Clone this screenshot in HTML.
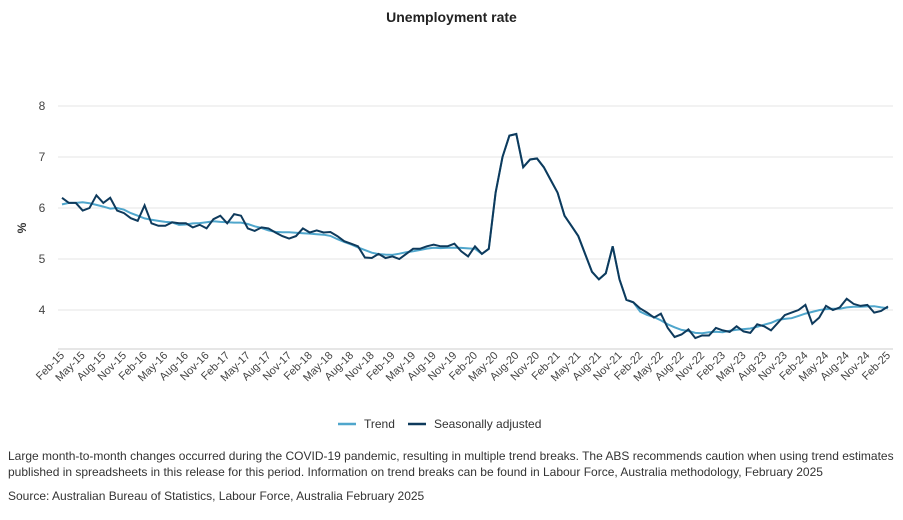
<!DOCTYPE html>
<html><head><meta charset="utf-8"><style>
body{margin:0;background:#fff;font-family:"Liberation Sans",sans-serif;color:#333;}
#w{position:relative;width:903px;height:520px;overflow:hidden}
.t{position:absolute;white-space:nowrap}
</style></head><body><div id="w">
<div class="t" style="left:0;width:903px;text-align:center;top:9px;font-size:14px;font-weight:bold;color:#222">Unemployment rate</div>
<svg id="s" width="903" height="440" style="position:absolute;left:0;top:0"></svg>
<div class="t" style="left:8px;top:448px;font-size:12px;line-height:16px;">Large month-to-month changes occurred during the COVID-19 pandemic, resulting in multiple trend breaks. The ABS recommends caution when using trend estimates<br>published in spreadsheets in this release for this period. Information on trend breaks can be found in Labour Force, Australia methodology, February 2025</div>
<div class="t" style="left:8px;top:489px;font-size:12px;">Source: Australian Bureau of Statistics, Labour Force, Australia February 2025</div>
</div>
<script>
var sa=[6.2,6.1,6.1,5.95,6.0,6.25,6.1,6.2,5.95,5.9,5.8,
5.75,6.05,5.7,5.65,5.65,5.72,5.7,5.7,5.62,5.67,5.6,5.78,
5.85,5.7,5.88,5.85,5.6,5.55,5.62,5.6,5.52,5.45,5.4,5.45,
5.6,5.52,5.56,5.52,5.53,5.45,5.35,5.3,5.25,5.03,5.02,5.1,
5.02,5.05,5.0,5.1,5.2,5.2,5.25,5.28,5.25,5.25,5.3,5.15,
5.05,5.25,5.1,5.2,6.3,7.0,7.42,7.45,6.8,6.95,6.97,6.8,
6.55,6.3,5.85,5.65,5.45,5.1,4.75,4.6,4.72,5.25,4.6,
4.2,4.15,4.03,3.95,3.85,3.93,3.65,3.47,3.52,3.62,3.45,3.5,3.5,3.65,3.6,3.57,3.68,3.58,3.55,3.72,3.68,3.6,3.75,3.9,3.95,4.0,
4.1,3.73,3.85,4.08,4.0,4.05,4.22,4.12,4.08,4.1,3.95,3.98,4.07];
sa=sa.slice(0,121);while(sa.length<121)sa.push(4.05);
var X=function(i){return 62+i*826/120},Y=function(v){return 310-(v-4)*51};
var s='';
[4,5,6,7,8].forEach(function(v){s+='<line x1="58" x2="893" y1="'+Y(v)+'" y2="'+Y(v)+'" stroke="#e6e6e6"/>';
s+='<text x="42" y="'+(Y(v)+4)+'" font-size="12" fill="#444" text-anchor="middle">'+v+'</text>';});
s+='<line x1="58" x2="893" y1="349" y2="349" stroke="#ccc"/>';
s+='<text x="26" y="228" font-size="12" font-weight="bold" fill="#333" transform="rotate(-90 26 228)" text-anchor="middle">%</text>';
var m=['Feb','May','Aug','Nov'];
for(var k=0;k<41;k++){var i=k*3,x=X(i)+3,yr=15+Math.floor((k)/4);
s+='<text x="'+x+'" y="356" font-size="11" fill="#444" text-anchor="end" transform="rotate(-45 '+x+' 356)">'+m[k%4]+'-'+yr+'</text>';}
var A=61,B=83;
var tr=[];for(var i=0;i<121;i++){if(i>=A&&i<=B){tr.push(sa[i]);continue;}var a=0,n=0;for(var j=-4;j<=4;j++){var q=i+j;if(q<0||q>120)continue;
if(i<A&&q>=A)continue; if(i>B&&q<B-1)continue;a+=sa[q];n++;}tr.push(a/n);}
function p(d){return d.map(function(v,i){return (i?'L':'M')+X(i).toFixed(1)+','+Y(v).toFixed(1)}).join('');}
s+='<path d="'+p(tr)+'" fill="none" stroke="#4fa6cc" stroke-width="2"/>';
s+='<path d="'+p(sa)+'" fill="none" stroke="#0e3a5c" stroke-width="2"/>';
s+='<line x1="338" x2="356" y1="424" y2="424" stroke="#4fa6cc" stroke-width="2.5"/><text x="364" y="428" font-size="12" fill="#333">Trend</text>';
s+='<line x1="408" x2="426" y1="424" y2="424" stroke="#0e3a5c" stroke-width="2.5"/><text x="434" y="428" font-size="12" fill="#333">Seasonally adjusted</text>';
document.getElementById('s').innerHTML=s;
</script></body></html>
